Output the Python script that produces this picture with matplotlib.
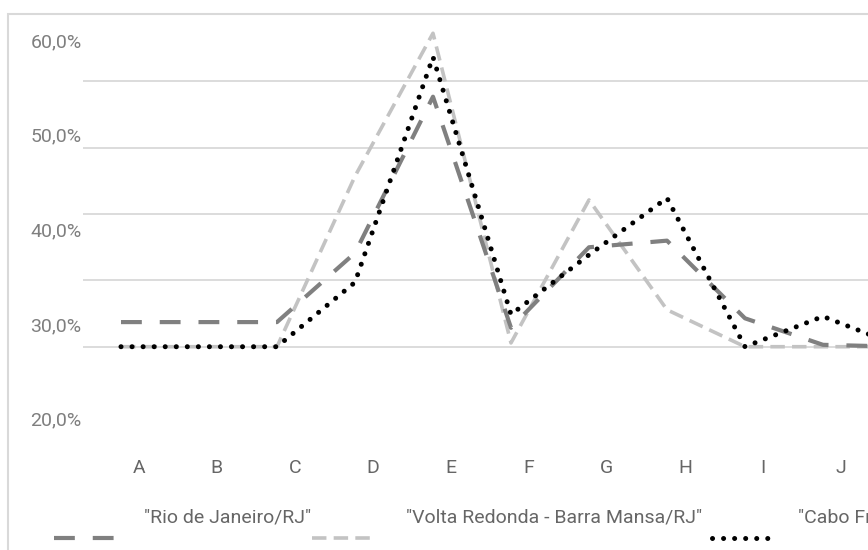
import matplotlib
matplotlib.use("Agg")
import matplotlib.pyplot as plt
from matplotlib.lines import Line2D
from matplotlib.patches import Rectangle
from matplotlib.ticker import FuncFormatter

plt.rcParams['font.family'] = ['Roboto', 'DejaVu Sans']

categories = ['A', 'B', 'C', 'D', 'E', 'F', 'G', 'H', 'I', 'J', 'K']
rio = [30.2, 30.2, 30.2, 37.5, 54.0, 29.6, 38.1, 38.8, 30.6, 27.8, 27.6]
volta = [27.6, 27.6, 27.6, 45.6, 60.7, 28.0, 43.1, 31.5, 27.6, 27.6, 27.6]
cabo = [27.6, 27.6, 27.6, 34.4, 58.2, 31.0, 37.3, 43.3, 27.6, 30.8, 27.6]

series_names = ['"Rio de Janeiro/RJ"', '"Volta Redonda - Barra Mansa/RJ"', '"Cabo Frio/RJ"']
ytick_vals = [20, 30, 40, 50, 60]
grid_levels = [27.6, 34.6, 41.6, 48.6, 55.7]

W, H = 868, 550
fig = plt.figure(figsize=(W / 100, H / 100), dpi=100)

# outer chart frame (only left and top edges fall inside the image)
fig.add_artist(Rectangle((8 / W, -0.1), 1.2, 1 - 14 / H + 0.1, transform=fig.transFigure,
                         fill=False, edgecolor='#d9d9d9', linewidth=1.5))

ax = fig.add_axes([83 / W, 1 - 440 / H, 1 - 83 / W, (440 - 20) / H])
x = list(range(len(categories)))

for lvl in grid_levels:
    ax.axhline(lvl, color='#d9d9d9', linewidth=1.3, zorder=1)

rio_style = dict(color='#808080', linewidth=3, linestyle=(0, (5, 4.3)))
volta_style = dict(color='#c3c3c3', linewidth=2.6, linestyle=(0, (4, 2)))
cabo_style = dict(color='black', linewidth=3.6, linestyle=(0, (0.01, 2.2)),
                  dash_capstyle='round')

ax.plot(x, rio, zorder=3, **rio_style)
ax.plot(x, volta, zorder=2, **volta_style)
ax.plot(x, cabo, zorder=4, **cabo_style)

ax.set_xticks([i + 0.23 for i in x])
ax.set_xticklabels(categories)
ax.set_yticks(ytick_vals)
ax.yaxis.set_major_formatter(FuncFormatter(lambda v, p: ('%.1f%%' % v).replace('.', ',')))
ax.set_xlim(-0.487, 9.577)
ax.set_ylim(17.75, 62.10)
ax.tick_params(axis='x', length=0, pad=14, labelsize=14, labelcolor='#666666')
ax.tick_params(axis='y', length=0, pad=1, labelsize=14, labelcolor='#7f7f7f')
for s in ax.spines.values():
    s.set_visible(False)

# legend: names above, line samples below-left
fig.text(228 / W, 1 - 517 / H, series_names[0], ha='center', va='center',
         fontsize=14, color='#666666')
fig.text(554 / W, 1 - 517 / H, series_names[1], ha='center', va='center',
         fontsize=14, color='#666666')
fig.text(798 / W, 1 - 517 / H, series_names[2], ha='left', va='center',
         fontsize=14, color='#666666')

handle_x = [(54, 114), (312, 373), (712, 772)]
for (x0, x1), st in zip(handle_x, [rio_style, volta_style, cabo_style]):
    fig.add_artist(Line2D([x0 / W, x1 / W], [1 - 538 / H, 1 - 538 / H],
                          transform=fig.transFigure, **st))

fig.savefig('out.png', dpi=100)
